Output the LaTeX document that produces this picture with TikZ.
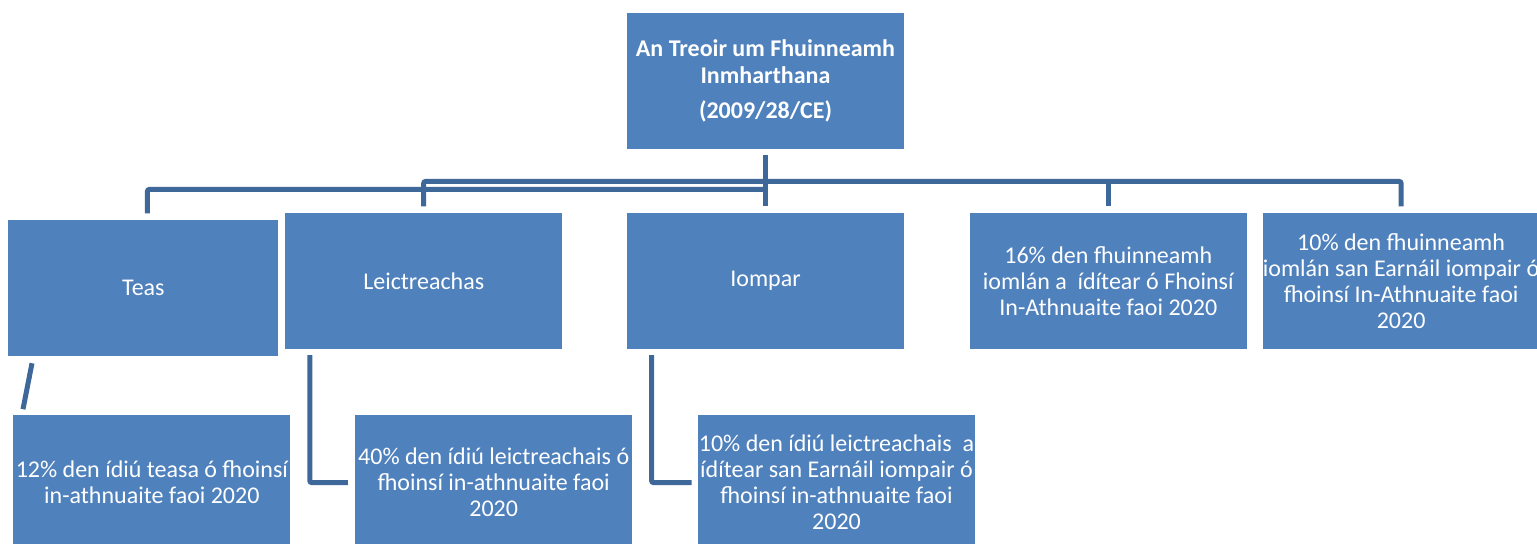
\documentclass[tikz,border=0pt]{standalone}
\usepackage{fontspec}
\setmainfont{Carlito}
\usetikzlibrary{positioning}
\definecolor{boxblue}{RGB}{79,129,189}
\definecolor{linkblue}{RGB}{62,104,153}

\begin{document}
\begin{tikzpicture}
		\tikzstyle{block} = [rectangle,fill=boxblue,text=white,align=center,inner sep=0pt,minimum width=138.5pt,minimum height=68pt,font=\fontsize{12}{13}\selectfont]
		\tikzstyle{link} = [draw=linkblue,line width=2.5pt,rounded corners=1pt]

		\useasboundingbox (0,0) rectangle (768.5pt,-271.5pt);

		\node[block,font=\bfseries\fontsize{12}{13.5}\selectfont] (top) at (382.75pt,-40.5pt) {An Treoir um Fhuinneamh\\Inmharthana\\[4pt](2009/28/CE)};

		\node[block,below=32.5pt of top,yshift=1pt] (iomp) {Iompar};
		\node[block,left=32pt of iomp] (leic) {Leictreachas};
		\node[block,minimum width=135pt,left=3pt of leic,yshift=-3.5pt] (teas) {Teas};
		\node[block,right=32.5pt of iomp] (pc16) {16\% den fhuinneamh\\iomlán a~ ídítear ó Fhoinsí\\In-Athnuaite faoi 2020};
		\node[block,right=7.5pt of pc16] (pc10) {10\% den fhuinneamh\\iomlán san Earnáil iompair ó\\fhoinsí In-Athnuaite faoi\\2020};

		\node[block,below=32.5pt of iomp,xshift=35.5pt] (sp10) {10\% den ídiú leictreachais~ a\\ídítear san Earnáil iompair ó\\fhoinsí in-athnuaite faoi\\2020};
		\node[block,left=32.5pt of sp10] (sp40) {40\% den ídiú leictreachais ó\\fhoinsí in-athnuaite faoi\\2020};
		\node[block,left=32pt of sp40] (sp12) {12\% den ídiú teasa ó fhoinsí\\in-athnuaite faoi 2020};

		\coordinate (hubl) at ([yshift=-20pt]top.south);
		\coordinate (hubr) at ([yshift=-16pt]top.south);

		\draw[link] ([yshift=-3pt]top.south)--([yshift=3pt]iomp.north);
		\draw[link] (hubl)-|([xshift=2pt,yshift=3pt]teas.north);
		\draw[link] ([yshift=3pt]leic.north)|-(hubr)-|([yshift=3pt]pc10.north);
		\draw[link] (pc16.north |- hubr)--([yshift=3pt]pc16.north);

		\draw[link] ([shift={(12pt,-3.5pt)}]teas.south west)--([shift={(5pt,2.5pt)}]sp12.north west);
		\draw[link] ([shift={(12.5pt,-3pt)}]leic.south west)|-([xshift=-3.5pt]sp40.west);
		\draw[link] ([shift={(12.5pt,-3pt)}]iomp.south west)|-([xshift=-3pt]sp10.west);
	\end{tikzpicture}
\end{document}
